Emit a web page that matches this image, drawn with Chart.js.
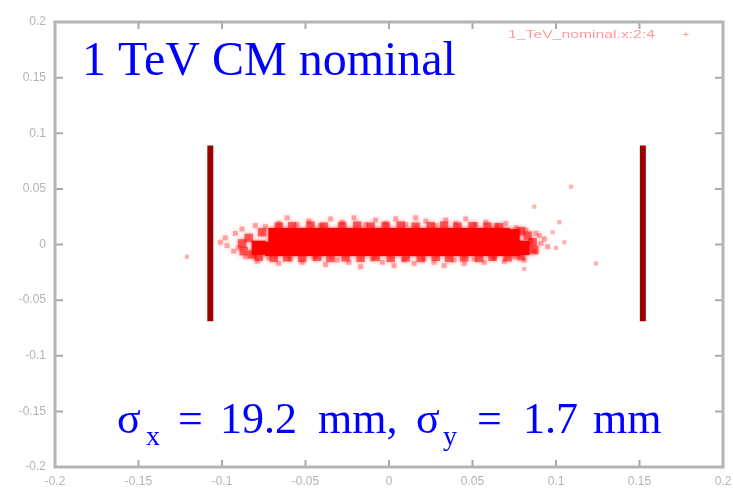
<!DOCTYPE html>
<html>
<head>
<meta charset="utf-8">
<script src="https://cdn.jsdelivr.net/npm/chart.js@4.4.1/dist/chart.umd.min.js"></script>
<style>
  body { margin: 0; background: #fff; }
  #beam { display: block; }
</style>
</head>
<body>
<canvas id="beam" width="733" height="490"></canvas>
<script>
// axis ticks (same on both axes)
var tickValues = [-0.2, -0.15, -0.1, -0.05, 0, 0.05, 0.1, 0.15, 0.2];

// dense core of the beam spot, two rows
var coreTop = [
    [-0.068, 0.0085], [-0.060, 0.0085], [-0.052, 0.0085], [-0.044, 0.0085], [-0.036, 0.0085],
    [-0.028, 0.0085], [-0.020, 0.0085], [-0.012, 0.0085], [-0.004, 0.0085], [0.004, 0.0085],
    [0.012, 0.0085], [0.020, 0.0085], [0.028, 0.0085], [0.036, 0.0085], [0.044, 0.0085],
    [0.052, 0.0085], [0.060, 0.0085], [0.068, 0.0085], [0.074, 0.0075]
];
var coreBottom = [
    [-0.078, -0.003], [-0.070, -0.004], [-0.062, -0.004], [-0.054, -0.004], [-0.046, -0.004],
    [-0.038, -0.004], [-0.030, -0.004], [-0.022, -0.004], [-0.014, -0.004], [-0.006, -0.004],
    [0.002, -0.004], [0.010, -0.004], [0.018, -0.004], [0.026, -0.004], [0.034, -0.004],
    [0.042, -0.004], [0.050, -0.004], [0.058, -0.004], [0.066, -0.004], [0.074, -0.004],
    [0.080, -0.003]
];

// half-dense band just outside the core
var coreEdge = [
    [-0.066, 0.0160], [-0.058, 0.0165], [-0.047, 0.0170], [-0.039, 0.0160], [-0.028, 0.0165],
    [-0.019, 0.0170], [-0.011, 0.0160], [-0.002, 0.0165], [0.007, 0.0170], [0.016, 0.0160],
    [0.025, 0.0165], [0.033, 0.0170], [0.041, 0.0160], [0.050, 0.0165], [0.059, 0.0160],
    [0.066, 0.0155],
    [-0.078, -0.0110], [-0.069, -0.0120], [-0.061, -0.0115], [-0.052, -0.0120], [-0.043, -0.0110],
    [-0.035, -0.0120], [-0.026, -0.0115], [-0.017, -0.0120], [-0.008, -0.0110], [0.001, -0.0120],
    [0.010, -0.0115], [0.019, -0.0120], [0.028, -0.0110], [0.036, -0.0120], [0.045, -0.0115],
    [0.054, -0.0120], [0.062, -0.0110], [0.071, -0.0115], [0.079, -0.0105],
    [-0.088, 0.001], [-0.087, -0.006], [-0.084, 0.006], [0.086, 0.002], [0.087, -0.005],
    [0.083, 0.008], [0.079, 0.012], [-0.076, 0.011], [-0.082, -0.009]
];

// sparse points around the edge of the spot
var fringe = [
    [-0.092, 0.010], [-0.088, 0.014], [-0.080, 0.017], [-0.074, 0.016], [-0.066, 0.019],
    [-0.061, 0.024], [-0.055, 0.018], [-0.048, 0.021], [-0.041, 0.017], [-0.035, 0.023],
    [-0.028, 0.020], [-0.021, 0.024], [-0.014, 0.018], [-0.008, 0.022], [-0.002, 0.019],
    [0.004, 0.023], [0.010, 0.018], [0.016, 0.024], [0.022, 0.021], [0.028, 0.017],
    [0.034, 0.022], [0.040, 0.019], [0.046, 0.023], [0.052, 0.018], [0.058, 0.020],
    [0.064, 0.017], [0.070, 0.019], [0.076, 0.015], [0.082, 0.013], [0.088, 0.010],
    [-0.097, -0.001], [-0.093, -0.006], [-0.086, -0.011], [-0.079, -0.015], [-0.072, -0.012],
    [-0.066, -0.017], [-0.059, -0.013], [-0.052, -0.016], [-0.045, -0.012], [-0.038, -0.018],
    [-0.031, -0.014], [-0.024, -0.016], [-0.017, -0.020], [-0.010, -0.013], [-0.004, -0.016],
    [0.003, -0.019], [0.009, -0.014], [0.015, -0.017], [0.021, -0.013], [0.027, -0.016],
    [0.033, -0.019], [0.039, -0.014], [0.045, -0.017], [0.051, -0.013], [0.057, -0.016],
    [0.063, -0.012], [0.069, -0.015], [0.075, -0.011], [0.081, -0.014], [0.087, -0.006],
    [0.091, 0.001], [-0.101, 0.002], [-0.098, 0.006], [0.093, 0.005], [0.095, -0.002],
    [0.090, 0.008], [0.085, 0.003], [-0.090, -0.003]
];

// stray particles
var outliers = [
    [-0.121, -0.011], [0.109, 0.052], [0.087, 0.034], [0.081, -0.022], [0.124, -0.017],
    [0.102, 0.020], [0.105, 0.002], [0.100, -0.003], [0.098, 0.011]
];

// the two collimator markers
var markerLeft = [[-0.107, -0.069], [-0.107, 0.089]];
var markerRight = [[0.152, -0.069], [0.152, 0.089]];

var legendLabel = "1_TeV_nominal.x:2:4";
var titleText = "1 TeV CM nominal";

function pts(list) {
    return list.map(function (p) { return { x: p[0], y: p[1] }; });
}

var frameColor = "#b4b4b4";

// soften the dense part of the spot a little, like the blurry original
var softSpot = {
    id: "softSpot",
    beforeDatasetDraw: function (chart, args) {
        if (args.index > 3) return;
        chart.ctx.save();
        chart.ctx.shadowColor = "rgba(255, 0, 0, 0.7)";
        chart.ctx.shadowBlur = 4;
    },
    afterDatasetDraw: function (chart, args) {
        if (args.index > 3) return;
        chart.ctx.restore();
    }
};

var decorations = {
    id: "decorations",
    afterDraw: function (chart) {
        var ctx = chart.ctx, a = chart.chartArea;
        var xs = chart.scales.x, ys = chart.scales.y;
        ctx.save();
        // inward tick marks on all four sides
        ctx.strokeStyle = "#aaaaaa";
        ctx.lineWidth = 2;
        tickValues.forEach(function (v) {
            var px = xs.getPixelForValue(v), py = ys.getPixelForValue(v);
            ctx.beginPath();
            ctx.moveTo(px, a.bottom); ctx.lineTo(px, a.bottom - 7);
            ctx.moveTo(px, a.top); ctx.lineTo(px, a.top + 7);
            ctx.moveTo(a.left, py); ctx.lineTo(a.left + 8, py);
            ctx.moveTo(a.right, py); ctx.lineTo(a.right - 8, py);
            ctx.stroke();
        });
        // frame
        ctx.strokeStyle = frameColor;
        ctx.lineWidth = 3;
        ctx.strokeRect(a.left, a.top, a.right - a.left, a.bottom - a.top);

        // key, top right (stretched to the width seen in the plot)
        ctx.font = "11px 'Liberation Sans'";
        ctx.fillStyle = "rgba(255, 70, 70, 0.55)";
        ctx.textBaseline = "alphabetic";
        ctx.textAlign = "left";
        var w = ctx.measureText(legendLabel).width;
        ctx.save();
        ctx.translate(508, 38);
        ctx.scale(147 / w, 1);
        ctx.fillText(legendLabel, 0, 0);
        ctx.restore();
        ctx.textAlign = "center";
        ctx.fillText("+", 686, 38);

        // title
        ctx.fillStyle = "#0000ff";
        ctx.textAlign = "left";
        ctx.font = "48px 'Liberation Serif'";
        ctx.fillText(titleText, 82, 75);

        // sigma line with subscripts
        var big = "44px 'Liberation Serif'", small = "28px 'Liberation Serif'";
        var parts = [
            ["\u03c3", big, 117, 0], ["x", small, 146, 12], ["=", big, 178, 0],
            ["19.2", big, 220, 0], ["mm,", big, 318, 0],
            ["\u03c3", big, 416, 0], ["y", small, 443, 12], ["=", big, 477, 0],
            ["1.7", big, 523, 0], ["mm", big, 593, 0]
        ];
        parts.forEach(function (p) {
            ctx.font = p[1];
            ctx.fillText(p[0], p[2], 433 + p[3]);
        });
        ctx.restore();
    }
};

function setTicks(scale) {
    scale.ticks = tickValues.map(function (v) { return { value: v }; });
}

function fmt(v) {
    return String(Math.round(v * 100) / 100);
}

var tickFont = { family: "Liberation Sans", size: 12 };

new Chart(document.getElementById("beam"), {
    type: "scatter",
    data: {
        datasets: [
            {
                label: "fringe",
                data: pts(fringe),
                backgroundColor: "rgba(255, 0, 0, 0.3)",
                borderWidth: 0,
                pointStyle: "rect",
                pointRadius: 3.5
            },
            {
                label: "core edge",
                data: pts(coreEdge),
                backgroundColor: "rgba(255, 0, 0, 0.55)",
                borderWidth: 0,
                pointStyle: "rect",
                pointRadius: 6
            },
            {
                label: "core top",
                data: pts(coreTop),
                backgroundColor: "#ff0000",
                borderWidth: 0,
                pointStyle: "rect",
                pointRadius: 10
            },
            {
                label: "core bottom",
                data: pts(coreBottom),
                backgroundColor: "#ff0000",
                borderWidth: 0,
                pointStyle: "rect",
                pointRadius: 10
            },
            {
                label: "outliers",
                data: pts(outliers),
                backgroundColor: "rgba(255, 0, 0, 0.3)",
                borderWidth: 0,
                pointStyle: "rect",
                pointRadius: 3
            },
            {
                label: "left marker",
                data: pts(markerLeft),
                showLine: true,
                borderColor: "#990000",
                borderWidth: 6,
                pointRadius: 0
            },
            {
                label: "right marker",
                data: pts(markerRight),
                showLine: true,
                borderColor: "#990000",
                borderWidth: 6,
                pointRadius: 0
            }
        ]
    },
    options: {
        responsive: false,
        animation: false,
        layout: { padding: { left: 0, top: 22, right: 10, bottom: 0 } },
        plugins: {
            legend: { display: false },
            tooltip: { enabled: false }
        },
        scales: {
            x: {
                type: "linear",
                min: -0.2,
                max: 0.2,
                afterBuildTicks: setTicks,
                afterFit: function (s) {
                    s.height = 23;
                    s.paddingLeft = 0;
                    s.paddingRight = 0;
                },
                grid: { display: false, drawTicks: false },
                border: { display: false },
                ticks: {
                    color: "#b4b4b4",
                    font: tickFont,
                    padding: 7,
                    maxRotation: 0,
                    autoSkip: false,
                    callback: fmt
                }
            },
            y: {
                type: "linear",
                min: -0.2,
                max: 0.2,
                afterBuildTicks: setTicks,
                afterFit: function (s) {
                    s.width = 55;
                    s.paddingTop = 0;
                    s.paddingBottom = 0;
                },
                grid: { display: false, drawTicks: false },
                border: { display: false },
                ticks: {
                    color: "#b4b4b4",
                    font: tickFont,
                    padding: 9,
                    autoSkip: false,
                    callback: fmt
                }
            }
        }
    },
    plugins: [softSpot, decorations]
});
</script>
</body>
</html>
